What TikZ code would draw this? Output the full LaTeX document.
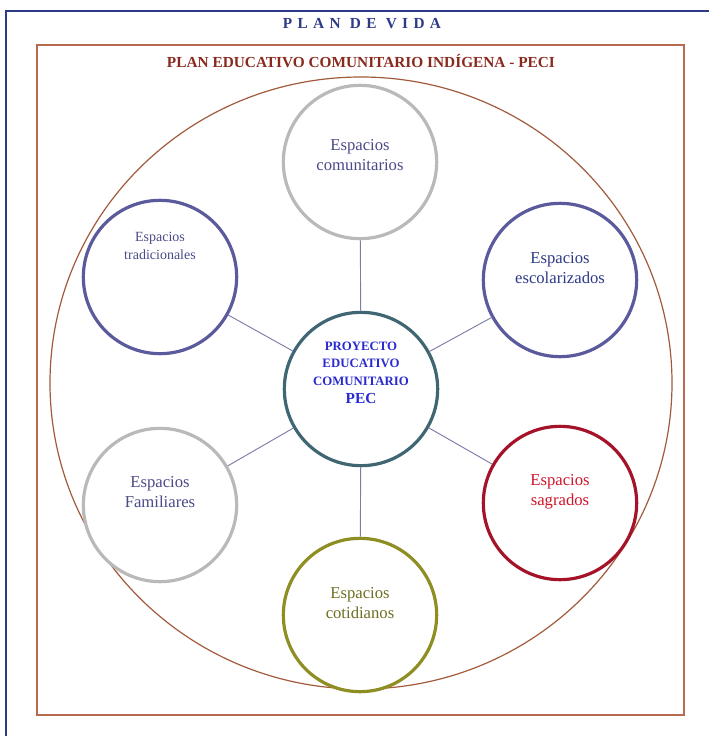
\documentclass[tikz,border=0pt]{standalone}
\usepackage{fontspec}
\setmainfont{Liberation Serif}
\begin{document}
\begin{tikzpicture}[x=0.75pt,y=-0.75pt,
  ring/.style={circle,draw,line width=2.4pt,minimum size=115pt,inner sep=0pt,fill=white},
  lbl/.style={align=center,font=\fontsize{12.5}{15}\selectfont},
  link/.style={draw=linkc,line width=0.7pt}]
\definecolor{navy}{HTML}{2E3A86}
\definecolor{peci}{HTML}{8A2A1E}
\definecolor{brownbox}{HTML}{B86A50}
\definecolor{bigc}{HTML}{A25A3C}
\definecolor{grayc}{HTML}{B9B9B9}
\definecolor{slate}{HTML}{5A5A9C}
\definecolor{slatetxt}{HTML}{4A4A88}
\definecolor{teal}{HTML}{3F6672}
\definecolor{pecblue}{HTML}{2A2AD0}
\definecolor{redc}{HTML}{A5132A}
\definecolor{redt}{HTML}{D0142A}
\definecolor{olive}{HTML}{8E8E22}
\definecolor{olivet}{HTML}{6E6E22}
\definecolor{linkc}{HTML}{7C7CA8}
\useasboundingbox (0,0) rectangle (708,736);
% frames
\draw[navy,line width=1.1pt] (6,745) -- (6,11) -- (720,11);
\node[font=\bfseries\fontsize{11.5}{13}\selectfont\addfontfeature{LetterSpace=35},text=navy] (t1) at (362,24) {PLAN DE VIDA};
\draw[brownbox,line width=1.3pt] (37,45) rectangle (684,715);
\node[font=\bfseries\fontsize{11.5}{13}\selectfont,text=peci] (t2) at (361,61) {PLAN EDUCATIVO COMUNITARIO INDÍGENA - PECI};
\draw[bigc,line width=0.9pt] (361,383) ellipse [x radius=311, y radius=306];
% circles
\node[ring,draw=teal] (c) at (361,389) {};
\node[ring,draw=grayc] (com) at (360,162) {};
\node[ring,draw=slate] (tra) at (160,277) {};
\node[ring,draw=slate] (esc) at (560,280) {};
\node[ring,draw=grayc] (fam) at (160,505) {};
\node[ring,draw=redc] (sag) at (560,503) {};
\node[ring,draw=olive] (cot) at (360,615) {};
% connectors
\foreach \n in {com,tra,esc,fam,sag,cot} \path[link] (c) -- (\n);
% labels
\node[align=center,text=pecblue,font=\bfseries\fontsize{9.6}{13}\selectfont] (tc) at (361,373) {PROYECTO\\EDUCATIVO\\COMUNITARIO\\[1pt]{\fontsize{11.5}{13}\selectfont PEC}};
\node[lbl,text=slatetxt] (tcom) at (360,155) {Espacios\\comunitarios};
\node[lbl,text=slatetxt,font=\fontsize{10.5}{13}\selectfont] (ttra) at (160,246) {Espacios\\tradicionales};
\node[lbl,text=navy] (tesc) at (560,268) {Espacios\\escolarizados};
\node[lbl,text=slatetxt] (tfam) at (160,492) {Espacios\\Familiares};
\node[lbl,text=redt] (tsag) at (560,492) {Espacios\\sagrados};
\node[lbl,text=olivet] (tcot) at (360,603) {Espacios\\cotidianos};
\end{tikzpicture}
\end{document}
